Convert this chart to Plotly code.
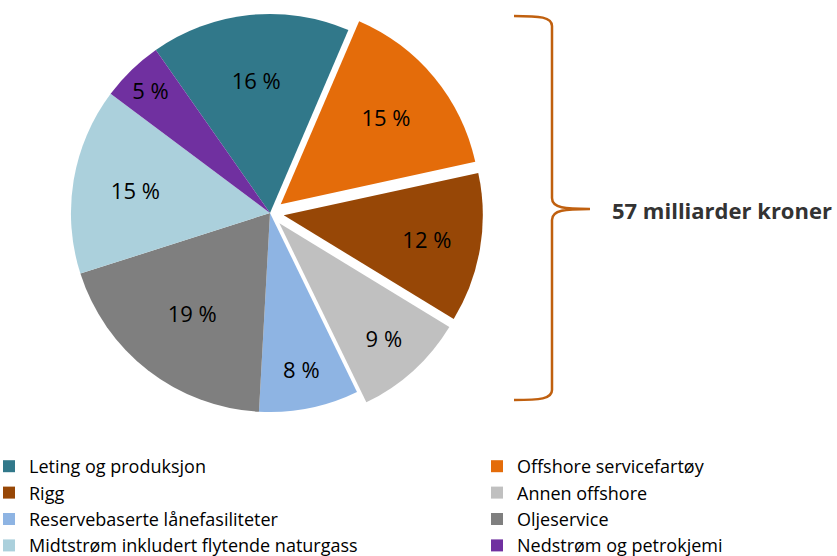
import plotly.graph_objects as go

W, H = 837, 556

categories = ["Leting og produksjon", "Offshore servicefartøy", "Rigg", "Annen offshore",
              "Reservebaserte lånefasiliteter", "Oljeservice",
              "Midtstrøm inkludert flytende naturgass", "Nedstrøm og petrokjemi"]
shares = [16, 15, 12, 9, 8, 19, 15, 5]
pulls = [0, 0.07, 0.07, 0.07, 0, 0, 0, 0]
colors = ["#31788A", "#E46C0A", "#974706", "#C0C0C0", "#8EB4E3", "#7F7F7F", "#ABD0DC", "#7030A0"]
brace_label = "57 milliarder kroner"

FONT = "Open Sans"

cx, cy, half = 270, 213, 213

fig = go.Figure()
fig.add_trace(go.Pie(
    labels=categories,
    values=shares,
    sort=False,
    direction="clockwise",
    rotation=-35,
    pull=pulls,
    marker=dict(colors=colors, line=dict(width=0)),
    texttemplate="%{value} %",
    textposition="inside",
    insidetextorientation="horizontal",
    textfont=dict(family=FONT, size=22, color="#000000"),
    domain=dict(x=[(cx - half) / W, (cx + half) / W], y=[1 - (cy + half) / H, 1]),
    hoverinfo="label+percent",
    showlegend=False,
))

# legend entries (two columns, Excel-style row-major order)
for i, (cat, col) in enumerate(zip(categories, colors)):
    fig.add_trace(go.Scatter(
        x=[None], y=[None], mode="markers", name=cat,
        marker=dict(symbol="square", size=12, color=col),
        legend="legend" if i % 2 == 0 else "legend2",
        showlegend=True,
    ))


def px(x):
    return x / W


def py(y):
    return 1 - y / H


# curly brace
path = (
    f"M {px(514)},{py(16)} "
    f"C {px(540)},{py(16)} {px(552)},{py(17)} {px(552)},{py(26)} "
    f"L {px(552)},{py(198)} "
    f"C {px(552)},{py(208)} {px(565)},{py(209)} {px(590)},{py(209)} "
    f"C {px(565)},{py(209)} {px(552)},{py(210)} {px(552)},{py(220)} "
    f"L {px(552)},{py(390)} "
    f"C {px(552)},{py(399)} {px(540)},{py(400)} {px(514)},{py(400)}"
)
fig.add_shape(type="path", path=path, xref="paper", yref="paper",
              line=dict(color="#C0600F", width=2.5))

fig.add_annotation(x=px(610), y=py(210), xref="paper", yref="paper",
                   text=f"<b>{brace_label}</b>", showarrow=False,
                   xanchor="left", yanchor="middle",
                   font=dict(family=FONT, size=22, color="#333333"))

legend_common = dict(
    orientation="v",
    yanchor="top",
    font=dict(family=FONT, size=18, color="#000000"),
    itemwidth=30,
    traceorder="normal",
    bgcolor="rgba(0,0,0,0)",
)

fig.update_layout(
    width=W, height=H,
    margin=dict(l=0, r=0, t=0, b=0, autoexpand=False),
    paper_bgcolor="white",
    plot_bgcolor="white",
    xaxis=dict(visible=False),
    yaxis=dict(visible=False),
    legend=dict(x=px(-11), y=py(448), xanchor="left", **legend_common),
    legend2=dict(x=px(477), y=py(448), xanchor="left", **legend_common),
)

fig.write_html("out.html", config={"displayModeBar": False},
               post_script="document.body.style.margin='0';")
